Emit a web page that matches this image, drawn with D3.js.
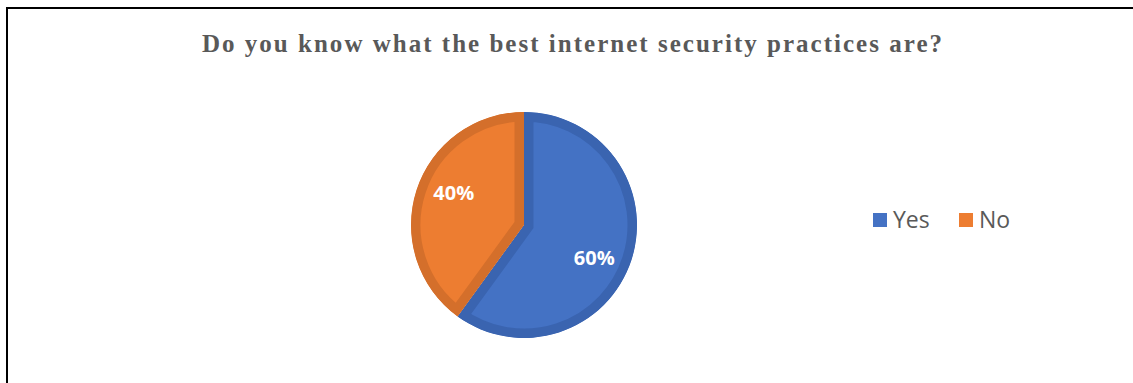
<!DOCTYPE html>
<html>
<head>
<meta charset="utf-8">
<script src="https://cdn.jsdelivr.net/npm/d3@7"></script>
<style>
  html, body { margin: 0; padding: 0; background: #fff; }
  svg { display: block; }
</style>
</head>
<body>
<svg id="chart" width="1133" height="383"></svg>
<script>
// Survey answers
const categories = ["Yes", "No"];
const values = [60, 40];
const labels = ["60%", "40%"];
const fills = ["#4472C4", "#ED7D31"];
const borders = ["#3A64B0", "#D46F2B"];
const title = "Do you know what the best internet security practices are?";

const svg = d3.select("#chart");

// outer frame
svg.append("rect")
  .attr("x", 7).attr("y", 8)
  .attr("width", 1200).attr("height", 500)
  .attr("fill", "#fff")
  .attr("stroke", "#000").attr("stroke-width", 2);

svg.append("text")
  .attr("x", 572).attr("y", 52)
  .attr("text-anchor", "middle")
  .attr("font-family", "Liberation Serif, Times New Roman, serif")
  .attr("font-weight", "bold")
  .attr("font-size", 25)
  .attr("textLength", 740)
  .attr("lengthAdjust", "spacing")
  .attr("fill", "#595959")
  .text(title);

const cx = 524, cy = 225, r = 113;
const pie = d3.pie().sort(null).value(d => d)(values);
const arc = d3.arc().innerRadius(0).outerRadius(r);
const g = svg.append("g").attr("transform", `translate(${cx},${cy})`);
const defs = svg.append("defs");

// each slice gets an inset border: a wide stroke clipped to the slice itself
pie.forEach((p, i) => {
  const id = "clip" + i;
  defs.append("clipPath").attr("id", id)
    .append("path").attr("d", arc(p));
  g.append("path")
    .attr("d", arc(p))
    .attr("fill", fills[i])
    .attr("stroke", borders[i])
    .attr("stroke-width", 19)
    .attr("stroke-linejoin", "miter")
    .attr("clip-path", `url(#${id})`);
});

// value labels sit a little past each slice's mid-angle
const labelR = r * 0.685, labelTurn = 0.12;
g.selectAll("text.lbl").data(pie).enter().append("text")
  .attr("class", "lbl")
  .attr("transform", d => {
    const a = (d.startAngle + d.endAngle) / 2 + labelTurn;
    return `translate(${labelR * Math.sin(a)},${-labelR * Math.cos(a)})`;
  })
  .attr("text-anchor", "middle")
  .attr("dy", "0.36em")
  .attr("font-family", "Open Sans, Liberation Sans, sans-serif")
  .attr("font-weight", "bold")
  .attr("font-size", 20)
  .attr("fill", "#fff")
  .text((d, i) => labels[i]);

// legend
const legendX = [873, 959];
const lg = svg.append("g");
categories.forEach((c, i) => {
  lg.append("rect")
    .attr("x", legendX[i]).attr("y", 213)
    .attr("width", 14).attr("height", 14)
    .attr("fill", fills[i]);
  lg.append("text")
    .attr("x", legendX[i] + 20).attr("y", 228)
    .attr("font-family", "Open Sans, Liberation Sans, sans-serif")
    .attr("font-size", 23)
    .attr("fill", "#595959")
    .text(c);
});
</script>
</body>
</html>
